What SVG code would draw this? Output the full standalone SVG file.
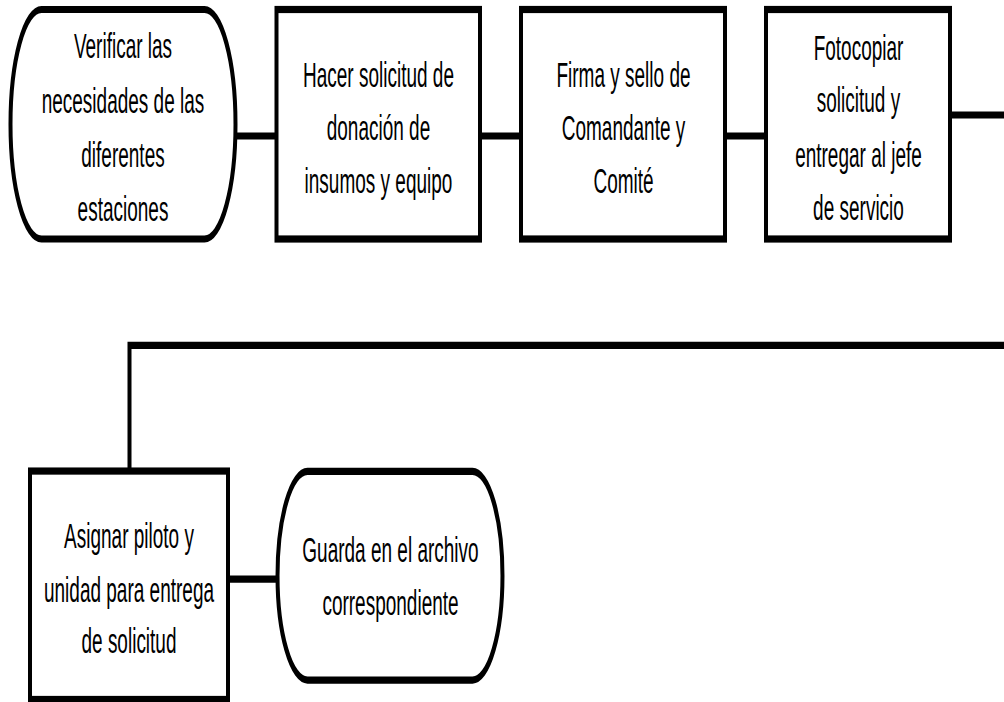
<svg xmlns="http://www.w3.org/2000/svg" width="1004" height="702" viewBox="0 0 1004 702">
<style>
.shape{fill:#ffffff;stroke:#000000;stroke-width:4;stroke-linejoin:round}
rect.shape{stroke-linejoin:miter}
.conn{fill:none;stroke:#000000;stroke-width:4}
.lbl{font-family:"Liberation Sans",Arial,sans-serif;font-size:19px;fill:#000000;text-anchor:middle}
</style>
<rect x="0" y="0" width="1004" height="702" fill="#ffffff"/>
<g transform="scale(1,1.8)">
<g id="connectors">
<path class="conn" d="M235.5,75.56 H276.5"/>
<path class="conn" d="M480,75.56 H521"/>
<path class="conn" d="M725,75.56 H766"/>
<path class="conn" d="M950,63.89 H1006"/>
<path class="conn" d="M1006,191.9 H129.5 V261.7"/>
<path class="conn" d="M228,321.7 H277.5"/>
</g>
<g id="n1">
<path class="shape" d="M41.5,5.28 H204.5 A31 63.75 0 0 1 204.5,132.78 H41.5 A31 63.75 0 0 1 41.5,5.28 Z"/>
<text class="lbl" x="123" y="32.2">Verificar las</text>
<text class="lbl" x="123" y="62.8">necesidades de las</text>
<text class="lbl" x="123" y="92.8">diferentes</text>
<text class="lbl" x="123" y="122.8">estaciones</text>
</g>
<g id="n2">
<rect class="shape" x="276.5" y="5.28" width="203.5" height="127.5"/>
<text class="lbl" x="378.5" y="48.3">Hacer solicitud de</text>
<text class="lbl" x="378.5" y="77.8">donación de</text>
<text class="lbl" x="378.5" y="107.2">insumos y equipo</text>
</g>
<g id="n3">
<rect class="shape" x="521" y="5.28" width="204" height="127.5"/>
<text class="lbl" x="623.5" y="48.3">Firma y sello de</text>
<text class="lbl" x="623.5" y="77.8">Comandante y</text>
<text class="lbl" x="623.5" y="107.2">Comité</text>
</g>
<g id="n4">
<rect class="shape" x="766" y="5.28" width="184" height="127.5"/>
<text class="lbl" x="858.5" y="33.3">Fotocopiar</text>
<text class="lbl" x="858.5" y="62.2">solicitud y</text>
<text class="lbl" x="858.5" y="92.8">entregar al jefe</text>
<text class="lbl" x="858.5" y="122.2">de servicio</text>
</g>
<g id="n5">
<rect class="shape" x="30" y="261.7" width="198" height="126.9"/>
<text class="lbl" x="129" y="304.4">Asignar piloto y</text>
<text class="lbl" x="129" y="334.4">unidad para entrega</text>
<text class="lbl" x="129" y="362.8">de solicitud</text>
</g>
<g id="n6">
<path class="shape" d="M307.5,261.9 H472.5 A30 57.95 0 0 1 472.5,377.8 H307.5 A30 57.95 0 0 1 307.5,261.9 Z"/>
<text class="lbl" x="390.5" y="312.2">Guarda en el archivo</text>
<text class="lbl" x="390.5" y="341.7">correspondiente</text>
</g>
</g>
</svg>
